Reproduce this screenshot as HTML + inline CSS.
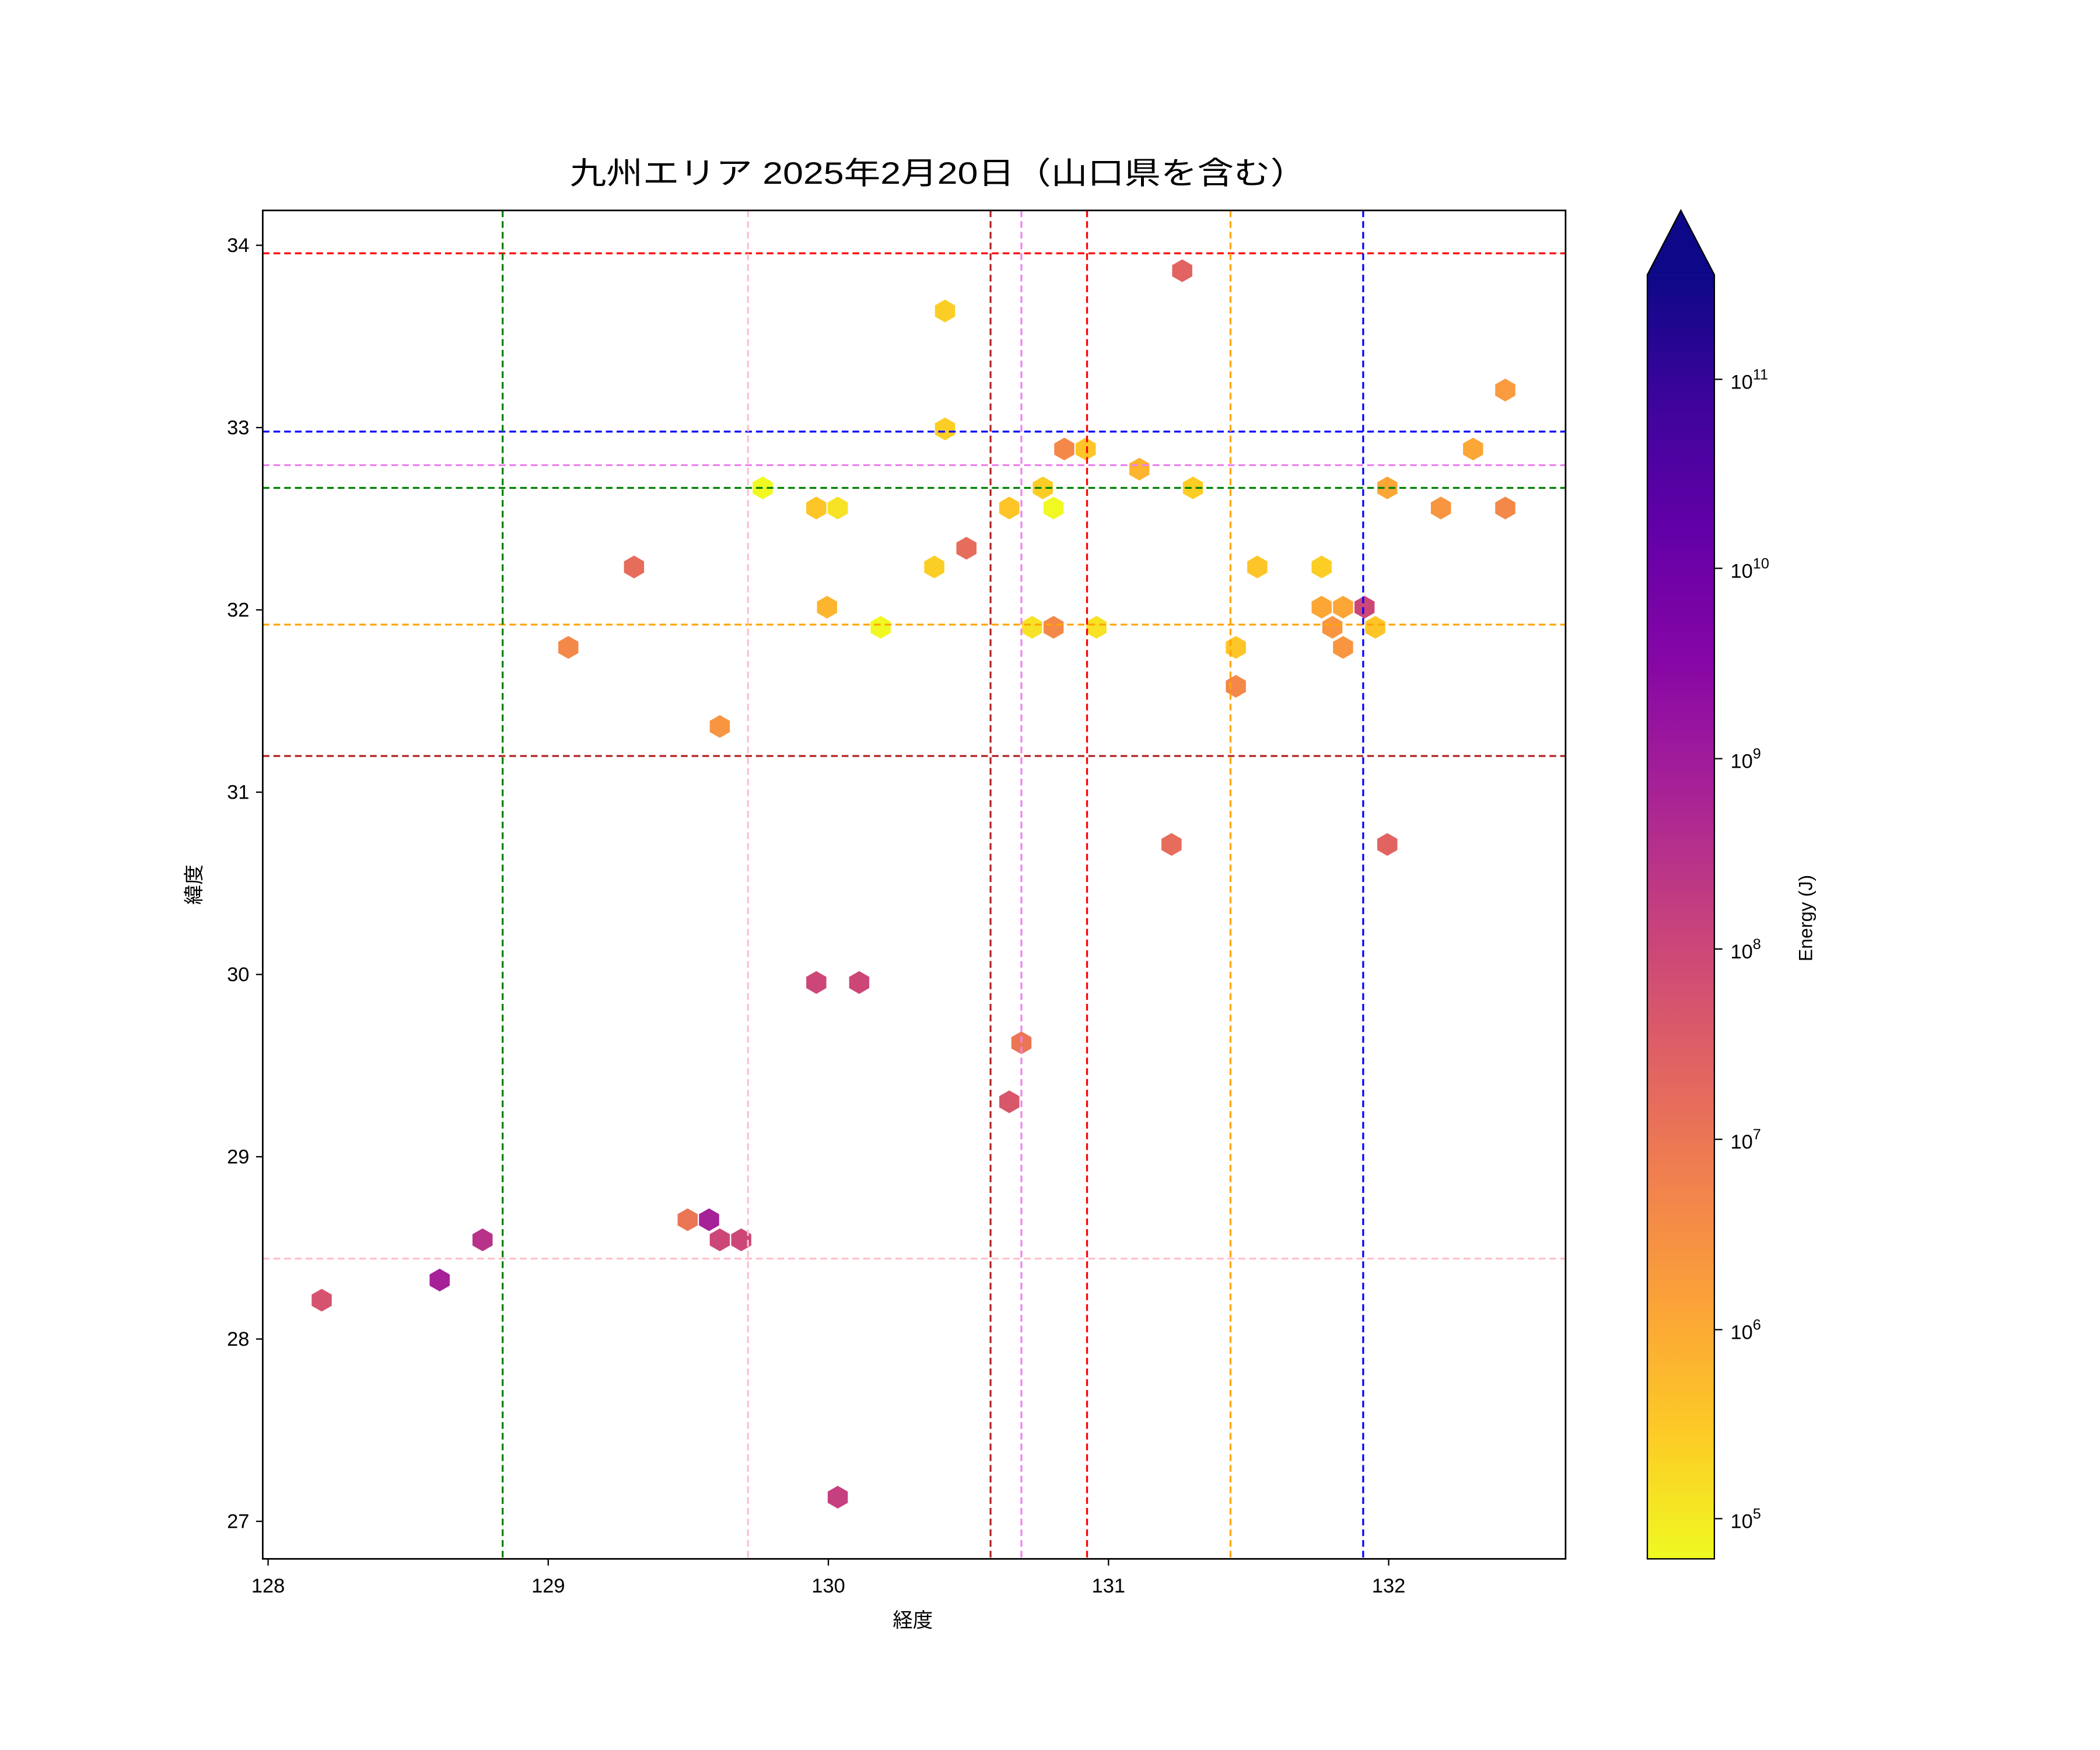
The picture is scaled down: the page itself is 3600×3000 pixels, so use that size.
<!DOCTYPE html>
<html><head><meta charset="utf-8"><style>
html,body{margin:0;padding:0;background:#fff}
svg{display:block}
text{font-family:"Liberation Sans","Noto Sans CJK JP",sans-serif;fill:#000}
</style></head><body>
<svg width="3600" height="3000" viewBox="0 0 1566.7 1305.6" xmlns="http://www.w3.org/2000/svg">
<defs>
<linearGradient id="pl" x1="0" y1="1" x2="0" y2="0">
<stop offset="0" stop-color="#f0f921"/>
<stop offset="0.1" stop-color="#fdca26"/>
<stop offset="0.2" stop-color="#fba238"/>
<stop offset="0.3" stop-color="#f07f4f"/>
<stop offset="0.4" stop-color="#dd5e66"/>
<stop offset="0.5" stop-color="#c5407e"/>
<stop offset="0.6" stop-color="#a72197"/>
<stop offset="0.7" stop-color="#8606a6"/>
<stop offset="0.8" stop-color="#6300a7"/>
<stop offset="0.9" stop-color="#3e049c"/>
<stop offset="1" stop-color="#0d0887"/>
</linearGradient>
<polygon id="h" points="0,-8.5 7.5,-4.2 7.5,4.2 0,8.5 -7.5,4.2 -7.5,-4.2"/>
</defs>
<text x="425" y="137" font-size="23" textLength="550" lengthAdjust="spacingAndGlyphs">九州エリア 2025年2月20日（山口県を含む）</text>

<g>
<use href="#h" x="705" y="232" fill="#fcce25"/>
<use href="#h" x="882" y="202" fill="#e16462"/>
<use href="#h" x="1123" y="291" fill="#f99b3e"/>
<use href="#h" x="705" y="320" fill="#fcce25"/>
<use href="#h" x="794" y="335" fill="#f48849"/>
<use href="#h" x="810" y="335" fill="#fdc527"/>
<use href="#h" x="1099" y="335" fill="#fca636"/>
<use href="#h" x="850" y="350" fill="#fdb42f"/>
<use href="#h" x="569" y="364" fill="#f0f921"/>
<use href="#h" x="778" y="364" fill="#fcce25"/>
<use href="#h" x="890" y="364" fill="#fcce25"/>
<use href="#h" x="1035" y="364" fill="#fca636"/>
<use href="#h" x="609" y="379" fill="#fdc527"/>
<use href="#h" x="625" y="379" fill="#f7e225"/>
<use href="#h" x="753" y="379" fill="#fdc527"/>
<use href="#h" x="786" y="379" fill="#f0f921"/>
<use href="#h" x="1075" y="379" fill="#f89540"/>
<use href="#h" x="1123" y="379" fill="#f48849"/>
<use href="#h" x="721" y="409" fill="#e66c5c"/>
<use href="#h" x="473" y="423" fill="#e66c5c"/>
<use href="#h" x="697" y="423" fill="#fcce25"/>
<use href="#h" x="938" y="423" fill="#fdc527"/>
<use href="#h" x="986" y="423" fill="#fcce25"/>
<use href="#h" x="617" y="453" fill="#fdb42f"/>
<use href="#h" x="986" y="453" fill="#fca636"/>
<use href="#h" x="1002" y="453" fill="#fca636"/>
<use href="#h" x="1018" y="453" fill="#cc4778"/>
<use href="#h" x="657" y="468" fill="#f0f921"/>
<use href="#h" x="770" y="468" fill="#f7e225"/>
<use href="#h" x="786" y="468" fill="#f48849"/>
<use href="#h" x="818" y="468" fill="#f7e225"/>
<use href="#h" x="994" y="468" fill="#f89540"/>
<use href="#h" x="1026" y="468" fill="#fdc527"/>
<use href="#h" x="424" y="483" fill="#f48849"/>
<use href="#h" x="922" y="483" fill="#fdc527"/>
<use href="#h" x="1002" y="483" fill="#f89540"/>
<use href="#h" x="922" y="512" fill="#f48849"/>
<use href="#h" x="537" y="542" fill="#f89540"/>
<use href="#h" x="874" y="630" fill="#e66c5c"/>
<use href="#h" x="1035" y="630" fill="#e16462"/>
<use href="#h" x="609" y="733" fill="#cc4778"/>
<use href="#h" x="641" y="733" fill="#cc4778"/>
<use href="#h" x="762" y="778" fill="#eb7655"/>
<use href="#h" x="753" y="822" fill="#d8576b"/>
<use href="#h" x="513" y="910" fill="#eb7655"/>
<use href="#h" x="529" y="910" fill="#a62098"/>
<use href="#h" x="537" y="925" fill="#cc4778"/>
<use href="#h" x="553" y="925" fill="#cc4778"/>
<use href="#h" x="360" y="925" fill="#b83289"/>
<use href="#h" x="328" y="955" fill="#a62098"/>
<use href="#h" x="240" y="970" fill="#d5536f"/>
<use href="#h" x="625" y="1117" fill="#c5407e"/>
</g>
<g stroke-width="1.4" stroke-dasharray="5,3" fill="none">
<line x1="196" x2="1168" y1="189" y2="189" stroke="#ff0000"/>
<line x1="196" x2="1168" y1="322" y2="322" stroke="#0000ff"/>
<line x1="196" x2="1168" y1="347" y2="347" stroke="#ee82ee"/>
<line x1="196" x2="1168" y1="364" y2="364" stroke="#008000"/>
<line x1="196" x2="1168" y1="466" y2="466" stroke="#ffa500"/>
<line x1="196" x2="1168" y1="564" y2="564" stroke="#b22222"/>
<line x1="196" x2="1168" y1="939" y2="939" stroke="#ffc0cb"/>
<line y1="157" y2="1163" x1="375" x2="375" stroke="#008000"/>
<line y1="157" y2="1163" x1="558" x2="558" stroke="#ffc0cb"/>
<line y1="157" y2="1163" x1="739" x2="739" stroke="#b22222"/>
<line y1="157" y2="1163" x1="762" x2="762" stroke="#ee82ee"/>
<line y1="157" y2="1163" x1="811" x2="811" stroke="#ff0000"/>
<line y1="157" y2="1163" x1="918" x2="918" stroke="#ffa500"/>
<line y1="157" y2="1163" x1="1017" x2="1017" stroke="#0000ff"/>
</g>
<rect x="196" y="157" width="972" height="1006" fill="none" stroke="#000" stroke-width="1.2"/>
<g stroke="#000" stroke-width="1">
<line x1="200" x2="200" y1="1163" y2="1168"/><line x1="409" x2="409" y1="1163" y2="1168"/><line x1="618" x2="618" y1="1163" y2="1168"/><line x1="827" x2="827" y1="1163" y2="1168"/><line x1="1036" x2="1036" y1="1163" y2="1168"/>
<line x1="191" x2="196" y1="183" y2="183"/><line x1="191" x2="196" y1="319" y2="319"/><line x1="191" x2="196" y1="455" y2="455"/><line x1="191" x2="196" y1="591" y2="591"/><line x1="191" x2="196" y1="727" y2="727"/><line x1="191" x2="196" y1="863" y2="863"/><line x1="191" x2="196" y1="999" y2="999"/><line x1="191" x2="196" y1="1135" y2="1135"/>
</g>
<g font-size="15" text-anchor="middle">
<text x="200" y="1188">128</text><text x="409" y="1188">129</text><text x="618" y="1188">130</text><text x="827" y="1188">131</text><text x="1036" y="1188">132</text>
<text x="681" y="1214" font-size="15">経度</text>
</g>
<g font-size="15" text-anchor="end">
<text x="186" y="188">34</text><text x="186" y="324">33</text><text x="186" y="460">32</text><text x="186" y="596">31</text><text x="186" y="732">30</text><text x="186" y="868">29</text><text x="186" y="1004">28</text><text x="186" y="1140">27</text>
</g>
<text transform="translate(150,660) rotate(-90)" font-size="15" text-anchor="middle">緯度</text>

<rect x="1229" y="205" width="50" height="958" fill="url(#pl)"/>
<polygon points="1229,205 1254,157 1279,205" fill="#0d0887"/>
<polygon points="1229,1163 1229,205 1254,157 1279,205 1279,1163" fill="none" stroke="#000" stroke-width="1"/>
<g stroke="#000" stroke-width="1">
<line x1="1279" x2="1285" y1="1133" y2="1133"/><line x1="1279" x2="1285" y1="992" y2="992"/><line x1="1279" x2="1285" y1="850" y2="850"/><line x1="1279" x2="1285" y1="708" y2="708"/><line x1="1279" x2="1285" y1="566" y2="566"/><line x1="1279" x2="1285" y1="424" y2="424"/><line x1="1279" x2="1285" y1="283" y2="283"/>
</g>
<g font-size="15">
<text x="1291" y="1140">10<tspan font-size="11" dy="-7">5</tspan></text>
<text x="1291" y="999">10<tspan font-size="11" dy="-7">6</tspan></text>
<text x="1291" y="857">10<tspan font-size="11" dy="-7">7</tspan></text>
<text x="1291" y="715">10<tspan font-size="11" dy="-7">8</tspan></text>
<text x="1291" y="573">10<tspan font-size="11" dy="-7">9</tspan></text>
<text x="1291" y="431">10<tspan font-size="11" dy="-7">10</tspan></text>
<text x="1291" y="290">10<tspan font-size="11" dy="-7">11</tspan></text>
</g>
<text transform="translate(1352,685) rotate(-90)" font-size="14" text-anchor="middle">Energy (J)</text>
</svg>
</body></html>
